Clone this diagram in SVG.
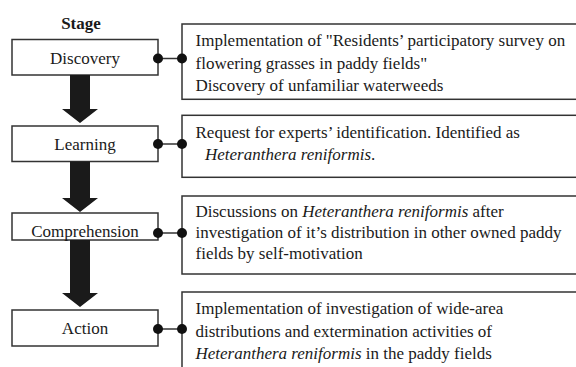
<svg xmlns="http://www.w3.org/2000/svg" width="576" height="367" viewBox="0 0 576 367">
  <style>
    .box { fill: #fff; stroke: #333; stroke-width: 1.5; }
    .txt { font-family: "Liberation Serif", "Times New Roman", serif; font-size: 17px; fill: #1a1a1a; }
    .lbl { text-anchor: middle; }
    .it { font-style: italic; }
    .head { font-weight: bold; }
    .arrow { fill: #1a1a1a; }
    .link { stroke: #333; stroke-width: 1.5; fill: none; }
    .dot { fill: #111; }
  </style>

  <text class="txt head lbl" x="81" y="29">Stage</text>

  <!-- stage boxes -->
  <g id="discovery">
    <rect class="box" x="12" y="39.5" width="146" height="35.5"/>
    <text class="txt lbl" x="85" y="64">Discovery</text>
  </g>
  <g id="learning">
    <rect class="box" x="12" y="126" width="146" height="35.5"/>
    <text class="txt lbl" x="85" y="150">Learning</text>
  </g>
  <g id="comprehension">
    <rect class="box" x="12" y="213" width="146" height="27"/>
    <text class="txt lbl" x="85" y="237">Comprehension</text>
  </g>
  <g id="action">
    <rect class="box" x="12" y="310" width="146" height="36"/>
    <text class="txt lbl" x="85" y="334">Action</text>
  </g>

  <!-- description boxes -->
  <g id="desc-discovery">
    <rect class="box" x="182" y="24" width="400" height="75.3"/>
    <text class="txt" x="195.5" y="46">Implementation of "Residents’ participatory survey on</text>
    <text class="txt" x="195.5" y="68.5">flowering grasses in paddy fields"</text>
    <text class="txt" x="195.5" y="91">Discovery of unfamiliar waterweeds</text>
  </g>
  <g id="desc-learning">
    <rect class="box" x="182" y="115.3" width="400" height="62"/>
    <text class="txt" x="195.5" y="138">Request for experts’ identification. Identified as</text>
    <text class="txt" x="205" y="159.5"><tspan class="it">Heteranthera reniformis</tspan>.</text>
  </g>
  <g id="desc-comprehension">
    <rect class="box" x="182" y="196" width="400" height="78"/>
    <text class="txt" x="195.5" y="217">Discussions on <tspan class="it">Heteranthera reniformis</tspan> after</text>
    <text class="txt" x="195.5" y="238">investigation of it’s distribution in other owned paddy</text>
    <text class="txt" x="195.5" y="259">fields by self-motivation</text>
  </g>
  <g id="desc-action">
    <rect class="box" x="182" y="292" width="400" height="90"/>
    <text class="txt" x="195.5" y="314">Implementation of investigation of wide-area</text>
    <text class="txt" x="195.5" y="336.5">distributions and extermination activities of</text>
    <text class="txt" x="195.5" y="358.5"><tspan class="it">Heteranthera reniformis</tspan> in the paddy fields</text>
  </g>

  <!-- connectors: stage arrows and dot links -->
  <g id="connectors">
    <polygon class="arrow" points="70,75 90,75 90,109 98,109 80,123 62,109 70,109"/>
    <polygon class="arrow" points="70,161.5 90,161.5 90,198 98,198 80,212 62,198 70,198"/>
    <polygon class="arrow" points="70,240 90,240 90,293 98,293 80,307 62,293 70,293"/>

    <line class="link" x1="158" y1="58.5" x2="182" y2="58.5"/>
    <circle class="dot" cx="158" cy="58.5" r="5"/>
    <circle class="dot" cx="182" cy="58.5" r="5"/>

    <line class="link" x1="158" y1="144" x2="182" y2="144"/>
    <circle class="dot" cx="158" cy="144" r="5"/>
    <circle class="dot" cx="182" cy="144" r="5"/>

    <line class="link" x1="158" y1="233" x2="182" y2="233"/>
    <circle class="dot" cx="158" cy="233" r="5"/>
    <circle class="dot" cx="182" cy="233" r="5"/>

    <line class="link" x1="158" y1="329" x2="182" y2="329"/>
    <circle class="dot" cx="158" cy="329" r="5"/>
    <circle class="dot" cx="182" cy="329" r="5"/>
  </g>
</svg>
